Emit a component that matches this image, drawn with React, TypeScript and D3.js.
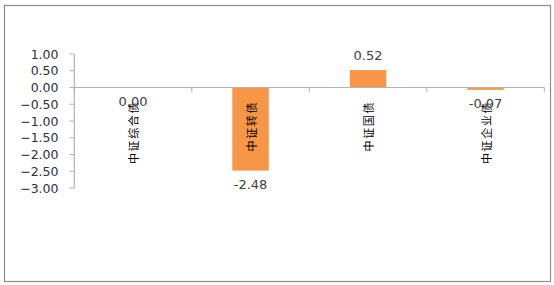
import React from "react";
import * as d3 from "d3";

const categories = ["中证综合债", "中证转债", "中证国债", "中证企业债"];
const values = [0.0, -2.48, 0.52, -0.07];
const yTicks = [1.0, 0.5, 0.0, -0.5, -1.0, -1.5, -2.0, -2.5, -3.0];

const W = 554;
const H = 285;

export default function App() {
  const x = d3.scaleBand<string>().domain(categories).range([74.3, 544.3]).padding(0);
  const y = d3.scaleLinear().domain([-3, 1]).range([188, 54]);
  const barW = x.bandwidth() * 0.31;
  const fmtTick = (v: number) => d3.format(".2f")(v);
  const fmtVal = (v: number) => d3.format(".2f")(v).replace("−", "-");
  const axisColor = "#b3b3b3";
  const y0 = y(0);
  const boundaries = categories.map((c) => x(c) as number).concat([x.range()[1]]);

  return (
    <svg width={W} height={H} style={{ position: "absolute", left: 0, top: 0, background: "#fff" }}>
      <rect x={4.5} y={5.5} width={546} height={276} fill="#fff" stroke="#8c8c8c" strokeWidth={1.2} />
      {/* y axis */}
      <line x1={74.3} x2={74.3} y1={y(1)} y2={y(-3)} stroke={axisColor} strokeWidth={1.2} />
      {yTicks.map((t) => (
        <g key={t}>
          <line x1={69.5} x2={74.3} y1={y(t)} y2={y(t)} stroke={axisColor} strokeWidth={1} />
          <text
            x={58.5}
            y={y(t)}
            textAnchor="end"
            dominantBaseline="central"
            fontFamily="DejaVu Sans"
            fontSize={12.5}
            fill="#2b2f3f"
          >
            {fmtTick(t)}
          </text>
        </g>
      ))}
      {/* bars */}
      {categories.map((c, i) => {
        const cx = (x(c) as number) + x.bandwidth() / 2;
        const v = values[i];
        const top = Math.min(y(v), y0);
        const h = Math.abs(y(v) - y0);
        return (
          <rect key={c} x={cx - barW / 2} y={top} width={barW} height={Math.max(h, 0)} fill="#F79646" />
        );
      })}
      {/* x axis line */}
      <line x1={74.3} x2={x.range()[1]} y1={y0} y2={y0} stroke={axisColor} strokeWidth={1.2} />
      {boundaries.map((b, i) => (
        <line key={i} x1={b} x2={b} y1={y0} y2={y0 + 5} stroke={axisColor} strokeWidth={1} />
      ))}
      {/* category labels */}
      {categories.map((c) => {
        const cx = (x(c) as number) + x.bandwidth() / 2;
        return (
          <text
            key={c}
            transform={`translate(${cx},101) rotate(-90)`}
            textAnchor="end"
            dominantBaseline="central"
            fontFamily="Noto Sans CJK SC"
            fontSize={11}
            letterSpacing={1.6}
            fill="#000"
          >
            {c}
          </text>
        );
      })}
      {/* value labels */}
      {categories.map((c, i) => {
        const cx = (x(c) as number) + x.bandwidth() / 2;
        const v = values[i];
        const ly = v > 0 ? y(v) - 15 : Math.max(y(v), y0) + 14;
        return (
          <text
            key={c}
            x={cx}
            y={ly}
            textAnchor="middle"
            dominantBaseline="central"
            fontFamily="DejaVu Sans"
            fontSize={13}
            fill="#404040"
          >
            {fmtVal(v)}
          </text>
        );
      })}
    </svg>
  );
}
